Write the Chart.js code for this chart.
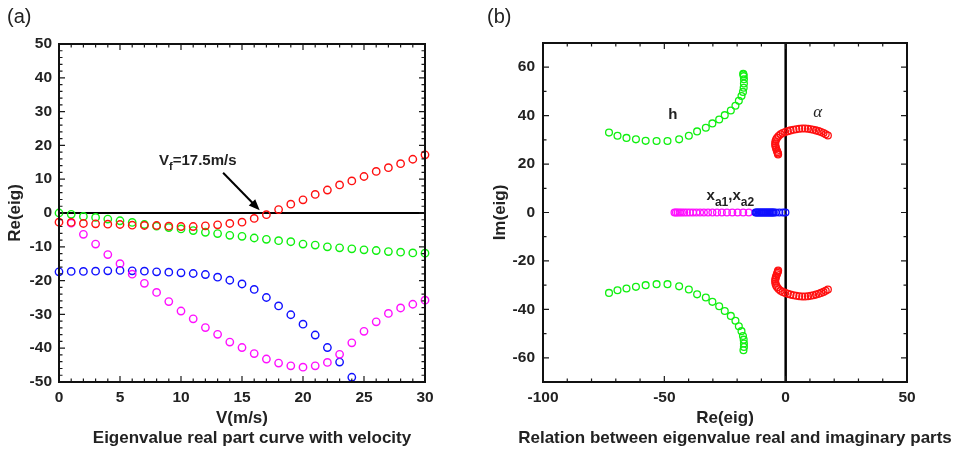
<!DOCTYPE html>
<html>
<head>
<meta charset="utf-8">
<script src="https://cdn.jsdelivr.net/npm/chart.js@4/dist/chart.umd.min.js"></script>
<style>
  html, body { margin: 0; padding: 0; background: #fff; }
  #wrap { position: relative; width: 954px; height: 451px; overflow: hidden; }
  canvas { position: absolute; top: 0; }
  #panelA { left: 0; }
  #panelB { left: 477px; }
</style>
</head>
<body>
<div id="wrap">
  <canvas id="panelA" width="477" height="451"></canvas>
  <canvas id="panelB" width="477" height="451"></canvas>
</div>
<script>
// ---------- (a) real part of the eigenvalues against flow velocity ----------
const velocity = [0,1,2,3,4,5,6,7,8,9,10,11,12,13,14,15,16,17,18,19,20,21,22,23,24,25,26,27,28,29,30];
// pitch (alpha) branch: crosses zero -> flutter
const reAlphaV = [-2.7,-2.8,-3.1,-3.2,-3.3,-3.4,-3.6,-3.7,-3.7,-3.9,-4.0,-4.0,-3.8,-3.5,-3.1,-2.7,-1.6,-0.5,1.0,2.6,3.9,5.5,6.8,8.3,9.5,10.8,12.3,13.4,14.6,15.9,17.2];
// plunge (h) branch
const reHV = [0,-0.4,-1.0,-1.3,-1.8,-2.3,-2.8,-3.4,-3.9,-4.3,-4.7,-5.2,-5.7,-6.1,-6.6,-6.9,-7.4,-7.8,-8.2,-8.5,-9.2,-9.5,-10.0,-10.3,-10.6,-10.9,-11.1,-11.4,-11.6,-11.8,-11.9];
// aerodynamic lag state x_a1 (V = 0 .. 24)
const velocityXa1 = [0,1,2,3,4,5,6,7,8,9,10,11,12,13,14,15,16,17,18,19,20,21,22,23,24];
const reXa1V = [-17.4,-17.3,-17.3,-17.2,-17.1,-17.0,-17.1,-17.2,-17.4,-17.5,-17.7,-17.9,-18.2,-19.0,-19.9,-21.0,-22.6,-25.0,-27.5,-30.1,-32.9,-36.1,-39.8,-44.1,-48.6];
// aerodynamic lag state x_a2 (V = 1 .. 30)
const velocityXa2 = [1,2,3,4,5,6,7,8,9,10,11,12,13,14,15,16,17,18,19,20,21,22,23,24,25,26,27,28,29,30];
const reXa2V = [-3.0,-6.3,-9.2,-12.3,-15.0,-18.1,-20.8,-23.5,-26.2,-29.0,-31.3,-33.9,-35.9,-38.2,-39.8,-41.6,-43.2,-44.4,-45.2,-45.6,-45.2,-44.2,-41.8,-38.4,-35.0,-32.2,-29.7,-28.1,-27.0,-25.8];

const velocityTicks = [0,5,10,15,20,25,30];
const reTicksA = [-50,-40,-30,-20,-10,0,10,20,30,40,50];

// ---------- (b) root locus: real vs imaginary part ----------
const hUpperRe = [-72.8,-69.3,-65.6,-61.7,-57.7,-53.2,-48.7,-43.9,-39.9,-36.5,-32.9,-30.2,-27.4,-25.1,-22.6,-20.7,-19.3,-18.2,-17.6,-17.3,-17.2,-17.2,-17.3,-17.4,-17.5];
const hUpperIm = [33.0,31.7,30.8,30.2,29.6,29.5,29.5,30.2,31.7,33.5,35.0,36.8,38.4,40.2,42.1,44.1,46.1,48.1,49.8,51.5,53.3,55.0,56.3,57.0,57.3];
const hLowerRe = [-72.8,-69.3,-65.6,-61.7,-57.7,-53.2,-48.7,-43.9,-39.9,-36.5,-32.9,-30.2,-27.4,-25.1,-22.6,-20.7,-19.3,-18.2,-17.6,-17.3,-17.2,-17.2,-17.4];
const hLowerIm = [-33.2,-32.1,-31.4,-30.7,-30.0,-29.6,-29.6,-30.5,-31.8,-33.8,-35.1,-36.9,-38.7,-40.7,-42.7,-44.7,-47.0,-49.0,-51.0,-52.5,-54.1,-55.5,-56.9];
const alphaUpperRe = [-3.1,-3.2,-3.4,-3.6,-3.9,-4.1,-4.3,-4.3,-4.2,-3.9,-3.5,-2.9,-2.1,-1.2,-0.2,0.9,2.0,3.2,4.4,5.6,6.8,8.0,9.2,10.3,11.4,12.5,13.6,14.6,15.6,16.5,17.4];
const alphaUpperIm = [24.0,24.4,24.9,25.5,26.2,27.0,27.8,28.6,29.4,30.2,30.9,31.6,32.3,32.8,33.2,33.6,33.9,34.2,34.4,34.6,34.7,34.7,34.6,34.4,34.2,33.9,33.6,33.2,32.8,32.3,31.8];
const alphaLowerRe = [-3.1,-3.2,-3.4,-3.6,-3.9,-4.1,-4.3,-4.3,-4.2,-3.9,-3.5,-2.9,-2.1,-1.2,-0.2,0.9,2.0,3.2,4.4,5.6,6.8,8.0,9.2,10.3,11.4,12.5,13.6,14.6,15.6,16.5,17.4];
const alphaLowerIm = [-24.0,-24.4,-24.9,-25.5,-26.2,-27.0,-27.8,-28.6,-29.4,-30.2,-30.9,-31.6,-32.3,-32.8,-33.2,-33.6,-33.9,-34.2,-34.4,-34.6,-34.7,-34.7,-34.6,-34.4,-34.2,-33.9,-33.6,-33.2,-32.8,-32.3,-31.8];
// real roots of the lag states lie on the real axis (Im = 0)
const xa2RootRe = [-45.8,-45.2,-44.5,-43.7,-42.8,-41.8,-40.7,-39.5,-38.2,-36.8,-35.3,-33.7,-32.0,-30.2,-28.3,-26.3,-24.2,-22.0,-19.8,-17.5,-15.2];
const xa1RootRe = [-12.4,-12.0,-11.6,-11.1,-10.7,-10.2,-9.8,-9.3,-8.9,-8.4,-8.0,-7.5,-7.1,-6.6,-6.2,-5.7,-5.3,-4.9,-4.1,-2.6,-1.1,-0.1];
const realAxisIm = 0;

const reTicksB = [-100,-50,0,50];
const imTicksB = [-60,-40,-20,0,20,40,60];

// ---------- styling ----------
const RED = '#ff1010', GREEN = '#10f010', BLUE = '#1010ff', MAGENTA = '#ff10ff';
const FONT = 'Arial, "Liberation Sans", sans-serif';
const INK = '#222';
Chart.defaults.font.family = FONT;
Chart.defaults.color = INK;
Chart.defaults.animation = false;

const pairs = (xs, ys) => xs.map((v, i) => ({ x: v, y: ys[i] }));
const onAxis = (xs, y0) => xs.map(v => ({ x: v, y: y0 }));

function ring(label, data, color, r, w) {
  return {
    label, data,
    showLine: false,
    pointStyle: 'circle',
    pointRadius: r,
    pointHoverRadius: r,
    pointBorderWidth: w,
    pointBorderColor: color,
    pointBackgroundColor: 'rgba(0,0,0,0)',
    borderColor: color,
    clip: 6
  };
}

// inward major/minor ticks on all four sides, box frame and zero line
const framePlugin = {
  id: 'frame',
  beforeDatasetsDraw(chart, args, o) {
    const { ctx, chartArea: a, scales: { x, y } } = chart;
    ctx.save();
    ctx.strokeStyle = '#000';
    ctx.lineWidth = o.zeroWidth;
    ctx.beginPath();
    if (o.zero === 'h') {
      const p = y.getPixelForValue(0);
      ctx.moveTo(a.left, p); ctx.lineTo(a.right, p);
    } else {
      const p = x.getPixelForValue(0);
      ctx.moveTo(p, a.top); ctx.lineTo(p, a.bottom);
    }
    ctx.stroke();
    ctx.restore();
  },
  afterDatasetsDraw(chart, args, o) {
    const { ctx, chartArea: a, scales: { x, y } } = chart;
    ctx.save();
    ctx.strokeStyle = '#1a1a1a';
    ctx.lineWidth = 1.2;
    ctx.beginPath();
    const nx = Math.round((x.max - x.min) / o.xMinor);
    for (let i = 0; i <= nx; i++) {
      const v = x.min + i * o.xMinor;
      const p = x.getPixelForValue(v);
      const len = o.xMajor.some(m => Math.abs(m - v) < 1e-6) ? 6 : 3.5;
      ctx.moveTo(p, a.bottom); ctx.lineTo(p, a.bottom - len);
      ctx.moveTo(p, a.top); ctx.lineTo(p, a.top + len);
    }
    const ny = Math.round((y.max - y.min) / o.yMinor);
    for (let i = 0; i <= ny; i++) {
      const v = y.min + i * o.yMinor;
      const p = y.getPixelForValue(v);
      const len = o.yMajor.some(m => Math.abs(m - v) < 1e-6) ? 6 : 3.5;
      ctx.moveTo(a.left, p); ctx.lineTo(a.left + len, p);
      ctx.moveTo(a.right, p); ctx.lineTo(a.right - len, p);
    }
    ctx.stroke();
    ctx.lineWidth = 2;
    ctx.strokeStyle = '#111';
    ctx.strokeRect(a.left, a.top, a.right - a.left, a.bottom - a.top);
    ctx.restore();
  },
  afterDraw(chart, args, o) {
    const { ctx, chartArea: a } = chart;
    ctx.save();
    ctx.fillStyle = INK;
    ctx.textBaseline = 'middle';
    ctx.textAlign = 'left';
    ctx.font = '20px ' + FONT;
    ctx.fillText(o.panel, o.panelX, 17);
    ctx.textAlign = 'center';
    ctx.font = 'bold 17px ' + FONT;
    ctx.fillText(o.caption, (a.left + a.right) / 2 + 10, 438);
    ctx.restore();
    if (o.notes) o.notes(chart);
  }
};

// text runs with subscripts
function richText(ctx, x, y, runs) {
  ctx.save();
  ctx.textBaseline = 'alphabetic';
  ctx.textAlign = 'left';
  ctx.fillStyle = INK;
  let cx = x;
  for (const r of runs) {
    ctx.font = r.font;
    ctx.fillText(r.t, cx, y + (r.dy || 0));
    cx += ctx.measureText(r.t).width;
  }
  ctx.restore();
}

function axisTitleFont() { return { size: 17, weight: 'bold', lineHeight: 20 / 17 }; }
function tickFont() { return { size: 15.5, weight: 'bold', lineHeight: 1.2 }; }

// ---------- panel (a) ----------
new Chart(document.getElementById('panelA'), {
  type: 'scatter',
  data: {
    datasets: [
      ring('alpha', pairs(velocity, reAlphaV), RED, 3.7, 1.4),
      ring('h', pairs(velocity, reHV), GREEN, 3.7, 1.4),
      ring('xa2', pairs(velocityXa2, reXa2V), MAGENTA, 3.7, 1.4),
      ring('xa1', pairs(velocityXa1, reXa1V), BLUE, 3.7, 1.4)
    ]
  },
  options: {
    responsive: false,
    events: [],
    layout: { padding: { top: 44, right: 52, bottom: 0, left: 0 } },
    plugins: {
      legend: { display: false },
      tooltip: { enabled: false },
      frame: {
        zero: 'h', zeroWidth: 2,
        xMinor: 1, xMajor: velocityTicks,
        yMinor: 2, yMajor: reTicksA,
        panel: '(a)', panelX: 7,
        caption: 'Eigenvalue real part curve with velocity',
        notes(chart) {
          const { ctx, scales: { x, y } } = chart;
          richText(ctx, x.getPixelForValue(8.2), y.getPixelForValue(15.7) + 5.5, [
            { t: 'V', font: 'bold 15px ' + FONT },
            { t: 'f', font: 'bold 11px ' + FONT, dy: 5 },
            { t: '=17.5m/s', font: 'bold 15px ' + FONT }
          ]);
          // arrow toward the flutter crossing
          const x0 = x.getPixelForValue(13.45), y0 = y.getPixelForValue(11.9);
          const x1 = x.getPixelForValue(16.45), y1 = y.getPixelForValue(0.8);
          const ang = Math.atan2(y1 - y0, x1 - x0);
          ctx.save();
          ctx.strokeStyle = '#000'; ctx.fillStyle = '#000'; ctx.lineWidth = 2;
          ctx.beginPath();
          ctx.moveTo(x0, y0);
          ctx.lineTo(x1 - 8 * Math.cos(ang), y1 - 8 * Math.sin(ang));
          ctx.stroke();
          ctx.beginPath();
          ctx.moveTo(x1, y1);
          ctx.lineTo(x1 - 11 * Math.cos(ang) + 4.5 * Math.sin(ang), y1 - 11 * Math.sin(ang) - 4.5 * Math.cos(ang));
          ctx.lineTo(x1 - 11 * Math.cos(ang) - 4.5 * Math.sin(ang), y1 - 11 * Math.sin(ang) + 4.5 * Math.cos(ang));
          ctx.closePath();
          ctx.fill();
          ctx.restore();
        }
      }
    },
    scales: {
      x: {
        type: 'linear', min: 0, max: 30,
        grid: { display: false, drawTicks: false },
        border: { display: false },
        afterBuildTicks: s => { s.ticks = velocityTicks.map(v => ({ value: v })); },
        afterFit: s => { s.height = 69; },
        ticks: { padding: 6, font: tickFont(), color: INK, maxRotation: 0 },
        title: { display: true, text: 'V(m/s)', font: axisTitleFont(), color: INK, padding: { top: 0, bottom: 23 } }
      },
      y: {
        type: 'linear', min: -50, max: 50,
        grid: { display: false, drawTicks: false },
        border: { display: false },
        afterBuildTicks: s => { s.ticks = reTicksA.map(v => ({ value: v })); },
        afterFit: s => { s.width = 59; },
        ticks: { padding: 7, font: tickFont(), color: INK },
        title: { display: true, text: 'Re(eig)', font: axisTitleFont(), color: INK, padding: { top: 5, bottom: 0 } }
      }
    }
  },
  plugins: [framePlugin]
});

// ---------- panel (b) ----------
new Chart(document.getElementById('panelB'), {
  type: 'scatter',
  data: {
    datasets: [
      ring('alpha+', pairs(alphaUpperRe, alphaUpperIm), RED, 3.4, 1.3),
      ring('alpha-', pairs(alphaLowerRe, alphaLowerIm), RED, 3.4, 1.3),
      ring('h+', pairs(hUpperRe, hUpperIm), GREEN, 3.4, 1.3),
      ring('h-', pairs(hLowerRe, hLowerIm), GREEN, 3.4, 1.3),
      ring('xa1', onAxis(xa1RootRe, realAxisIm), BLUE, 3.4, 1.3),
      ring('xa2', onAxis(xa2RootRe, realAxisIm), MAGENTA, 3.4, 1.3)
    ]
  },
  options: {
    responsive: false,
    events: [],
    layout: { padding: { top: 43, right: 47, bottom: 0, left: 8 } },
    plugins: {
      legend: { display: false },
      tooltip: { enabled: false },
      frame: {
        zero: 'v', zeroWidth: 2.5,
        xMinor: 10, xMajor: reTicksB,
        yMinor: 10, yMajor: imTicksB,
        panel: '(b)', panelX: 10,
        caption: 'Relation between eigenvalue real and imaginary parts',
        notes(chart) {
          const { ctx, scales: { x, y } } = chart;
          ctx.save();
          ctx.fillStyle = INK;
          ctx.textAlign = 'center';
          ctx.textBaseline = 'middle';
          ctx.font = 'bold 15px ' + FONT;
          ctx.fillText('h', x.getPixelForValue(-46.5), y.getPixelForValue(40.2));
          ctx.font = 'italic 17px "Liberation Serif", "Times New Roman", serif';
          ctx.fillText('\u03B1', x.getPixelForValue(13.2), y.getPixelForValue(41.4));
          ctx.restore();
          richText(ctx, x.getPixelForValue(-32.6), y.getPixelForValue(6.7) + 4, [
            { t: 'x', font: 'bold 15px ' + FONT },
            { t: 'a1', font: 'bold 12px ' + FONT, dy: 6 },
            { t: ',x', font: 'bold 15px ' + FONT },
            { t: 'a2', font: 'bold 12px ' + FONT, dy: 6 }
          ]);
        }
      }
    },
    scales: {
      x: {
        type: 'linear', min: -100, max: 50,
        grid: { display: false, drawTicks: false },
        border: { display: false },
        afterBuildTicks: s => { s.ticks = reTicksB.map(v => ({ value: v })); },
        afterFit: s => { s.height = 69; },
        ticks: { padding: 6, font: tickFont(), color: INK, maxRotation: 0 },
        title: { display: true, text: 'Re(eig)', font: axisTitleFont(), color: INK, padding: { top: 0, bottom: 23 } }
      },
      y: {
        type: 'linear', min: -70, max: 70,
        grid: { display: false, drawTicks: false },
        border: { display: false },
        afterBuildTicks: s => { s.ticks = imTicksB.map(v => ({ value: v })); },
        afterFit: s => { s.width = 58; },
        ticks: { padding: 8, font: tickFont(), color: INK },
        title: { display: true, text: 'Im(eig)', font: axisTitleFont(), color: INK, padding: { top: 5, bottom: 0 } }
      }
    }
  },
  plugins: [framePlugin]
});
</script>
</body>
</html>
